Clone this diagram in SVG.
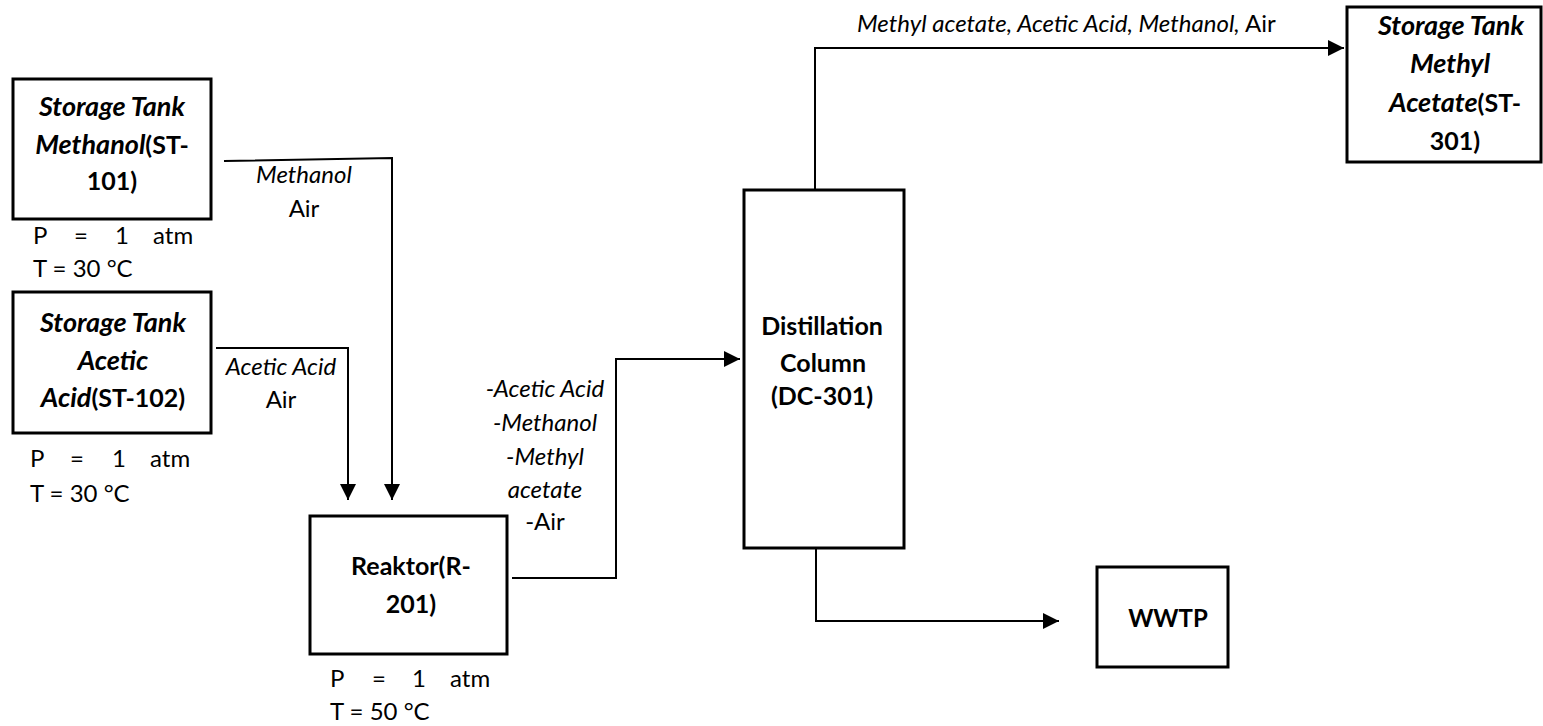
<svg xmlns="http://www.w3.org/2000/svg" width="1543" height="726" viewBox="0 0 1543 726">
<style>
  .box { fill: #ffffff; stroke: #000000; stroke-width: 3; }
  .line { fill: none; stroke: #000000; stroke-width: 2; }
  text { font-family: Lato, "Liberation Sans", sans-serif; font-size: 24px; fill: #000000; }
  .b { font-weight: bold; font-size: 25px; }
  .bi { font-weight: bold; font-style: italic; font-size: 27px; }
  .i { font-style: italic; }
  .c { text-anchor: middle; }
</style>
<defs>
  <marker id="arrow" markerUnits="userSpaceOnUse" markerWidth="16" markerHeight="16" refX="16" refY="8" orient="auto">
    <path d="M0,0 L16,8 L0,16 Z" fill="#000000"/>
  </marker>
</defs>
<rect width="1543" height="726" fill="#ffffff"/>

<g id="connectors">
  <polyline class="line" points="224,161 392,158 392,500" marker-end="url(#arrow)"/>
  <polyline class="line" points="216,348 348,348 348,500" marker-end="url(#arrow)"/>
  <polyline class="line" points="512,578 616,578 616,359 740,359" marker-end="url(#arrow)"/>
  <polyline class="line" points="815,190 815,48 1344,48" marker-end="url(#arrow)"/>
  <polyline class="line" points="816,548 816,621 1059,621" marker-end="url(#arrow)"/>
  <text class="i c" x="304" y="183">Methanol</text>
  <text class="c" x="304" y="217">Air</text>
  <text class="i c" x="281" y="375">Acetic Acid</text>
  <text class="c" x="281" y="408">Air</text>
  <text class="i c" x="545" y="397">-Acetic Acid</text>
  <text class="i c" x="545" y="431">-Methanol</text>
  <text class="i c" x="545" y="465">-Methyl</text>
  <text class="i c" x="545" y="498">acetate</text>
  <text class="c" x="545" y="530">-Air</text>
  <text x="857" y="32"><tspan class="i">Methyl acetate, Acetic Acid, Methanol,</tspan> Air</text>
</g>

<g id="st101">
  <rect class="box" x="13" y="79" width="198" height="140"/>
  <text class="bi c" x="112" y="116">Storage Tank</text>
  <text class="c" x="112" y="154"><tspan class="bi">Methanol</tspan><tspan class="b">(ST-</tspan></text>
  <text class="b c" x="112" y="190">101)</text>
  <text x="33" y="244">P</text>
  <text x="74" y="244">=</text>
  <text x="115" y="244">1</text>
  <text x="153" y="244">atm</text>
  <text x="33" y="277">T = 30 °C</text>
</g>

<g id="st102">
  <rect class="box" x="13" y="292" width="198" height="141"/>
  <text class="bi c" x="113" y="332">Storage Tank</text>
  <text class="bi c" x="113" y="370">Acetic</text>
  <text class="c" x="113" y="407"><tspan class="bi">Acid</tspan><tspan class="b">(ST-102)</tspan></text>
  <text x="30" y="467">P</text>
  <text x="70" y="467">=</text>
  <text x="112" y="467">1</text>
  <text x="150" y="467">atm</text>
  <text x="30" y="502">T = 30 °C</text>
</g>

<g id="r201">
  <rect class="box" x="310" y="516" width="197" height="138"/>
  <text class="b c" x="411" y="575">Reaktor(R-</text>
  <text class="b c" x="411" y="613">201)</text>
  <text x="330" y="687">P</text>
  <text x="372" y="687">=</text>
  <text x="412" y="687">1</text>
  <text x="450" y="687">atm</text>
  <text x="330" y="720">T = 50 °C</text>
</g>

<g id="dc301">
  <rect class="box" x="744" y="190" width="160" height="358"/>
  <text class="b c" x="822" y="335">Distillation</text>
  <text class="b c" x="823" y="372">Column</text>
  <text class="b c" x="822" y="405">(DC-301)</text>
</g>

<g id="st301">
  <rect class="box" x="1347" y="7" width="194" height="155"/>
  <text class="bi c" x="1451" y="35">Storage Tank</text>
  <text class="bi c" x="1450" y="73">Methyl</text>
  <text class="c" x="1455" y="112"><tspan class="bi">Acetate</tspan><tspan class="b">(ST-</tspan></text>
  <text class="b c" x="1455" y="150">301)</text>
</g>

<g id="wwtp">
  <rect class="box" x="1097" y="567" width="131" height="100"/>
  <text class="b c" x="1168" y="627" style="font-size:24px">WWTP</text>
</g>
</svg>
